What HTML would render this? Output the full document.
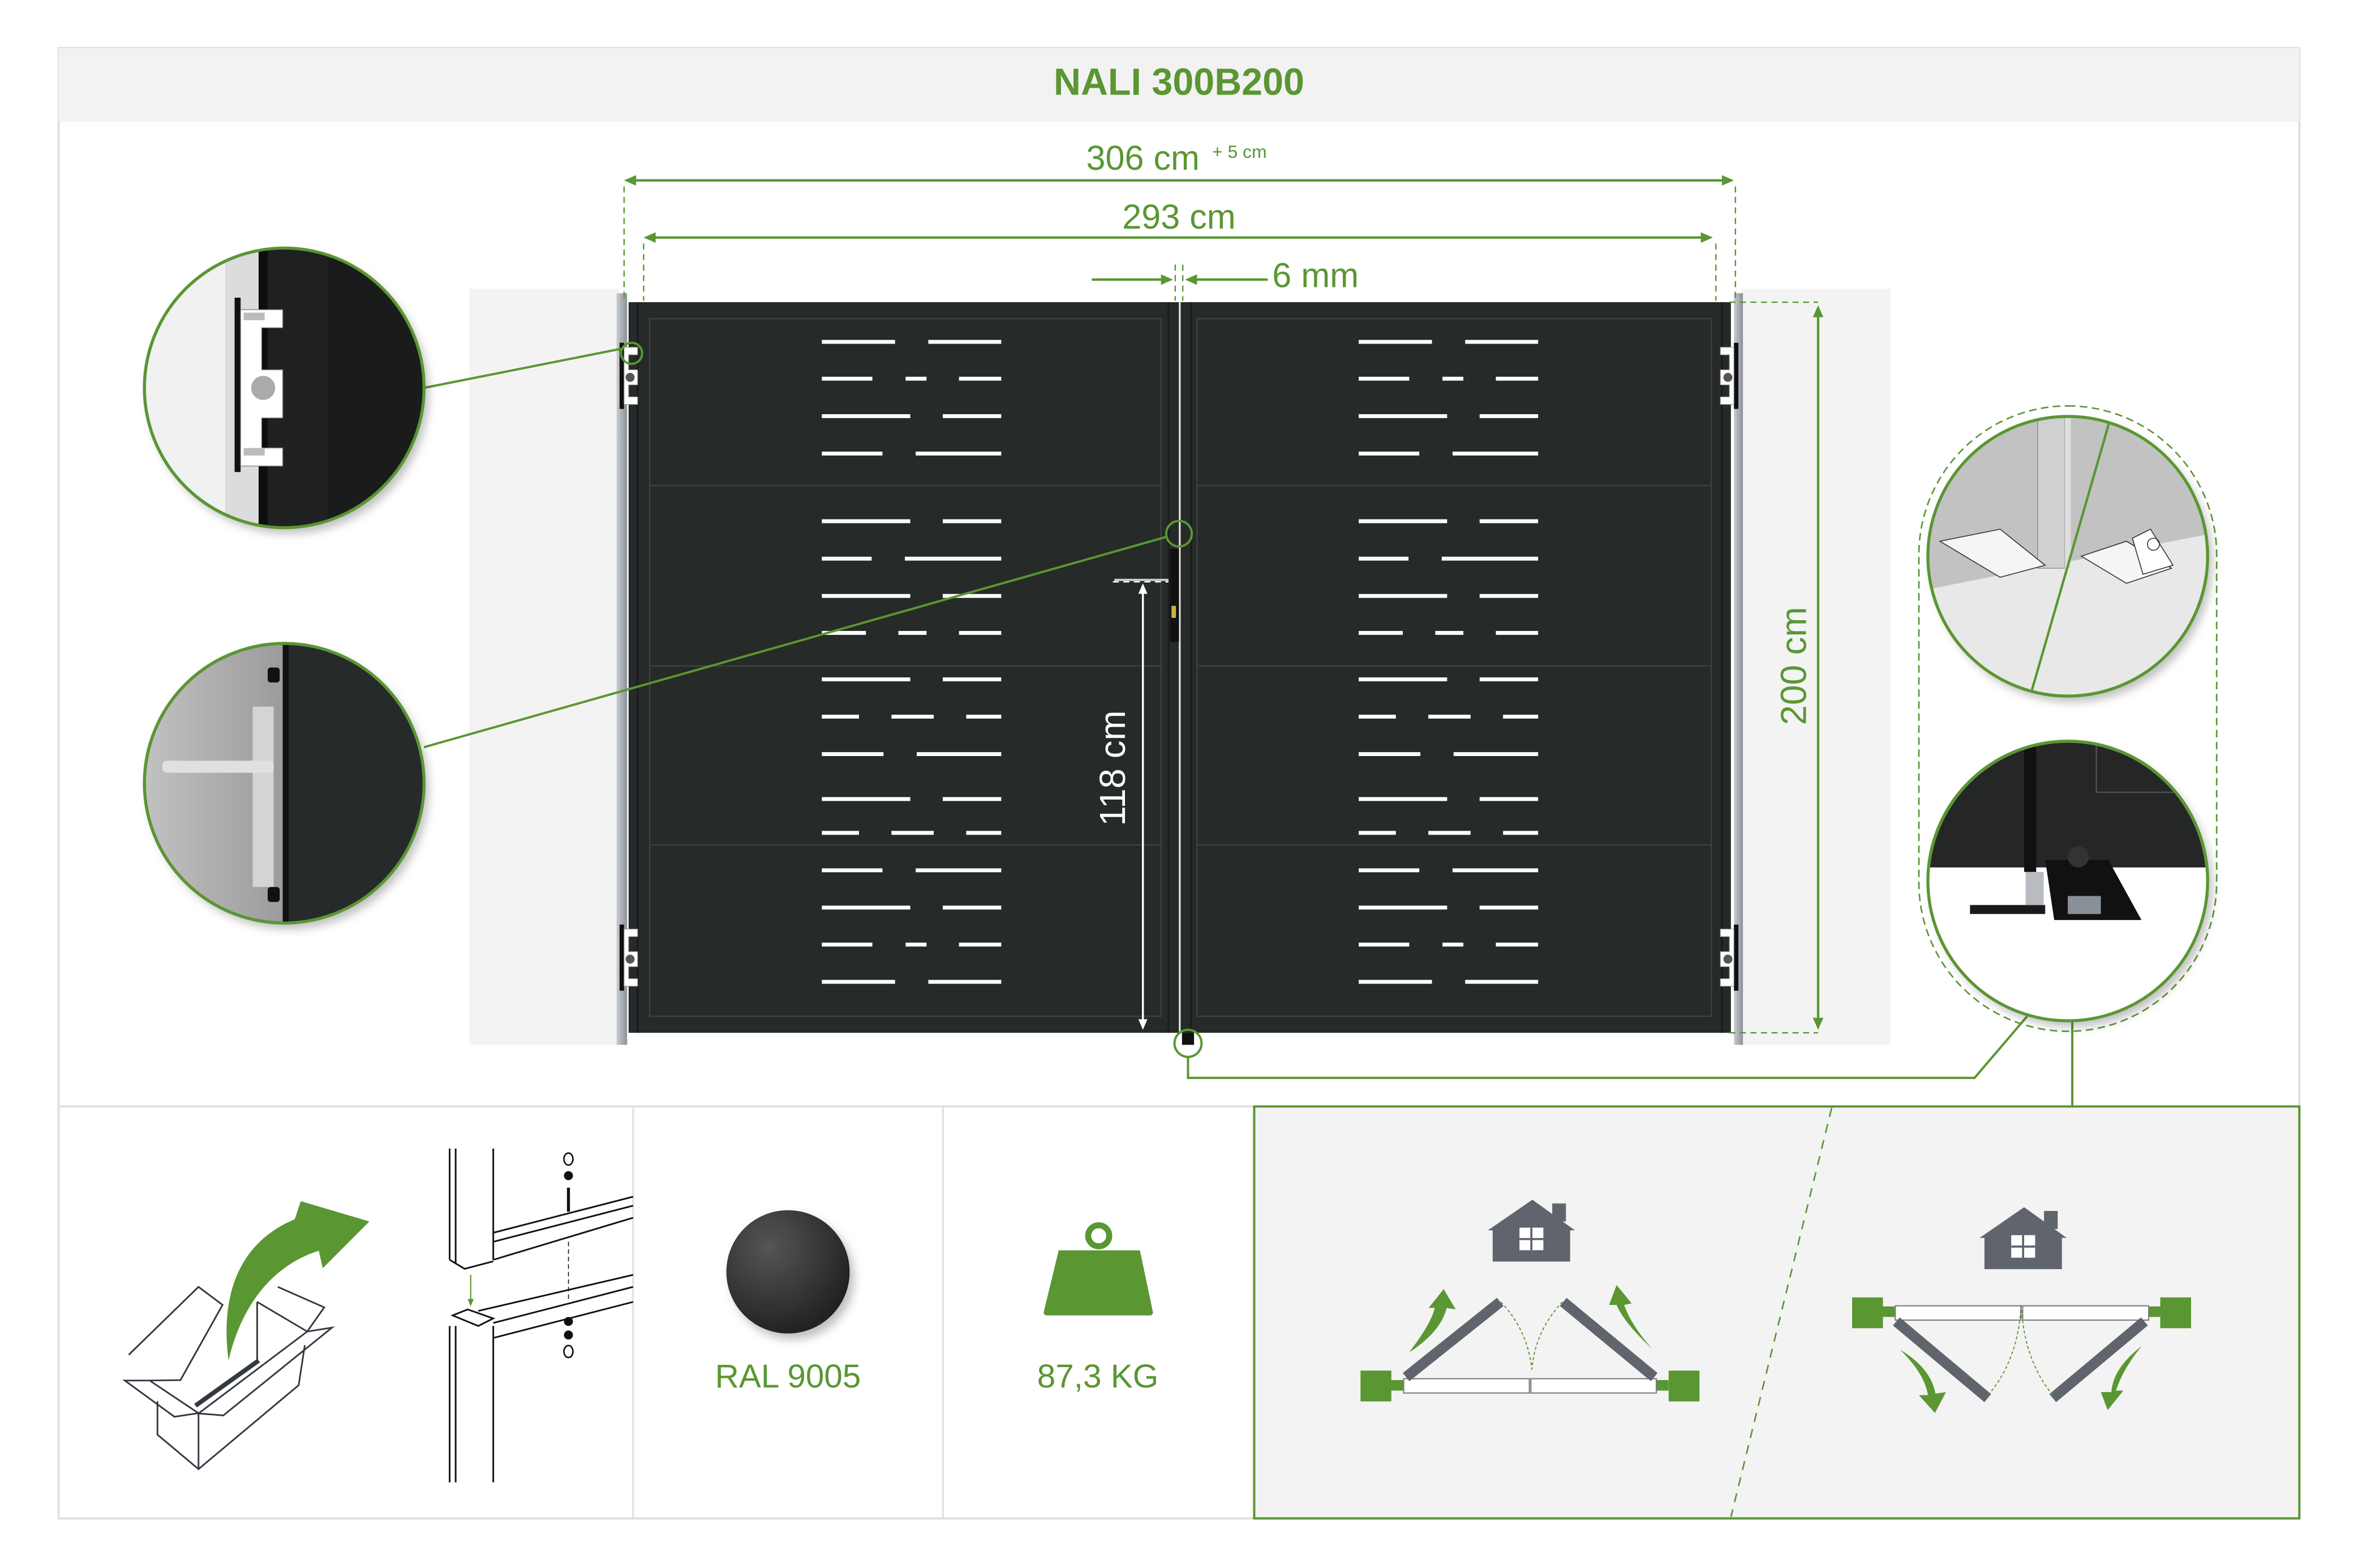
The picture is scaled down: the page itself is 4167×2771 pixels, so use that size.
<!DOCTYPE html>
<html><head><meta charset="utf-8"><style>
html,body{margin:0;padding:0;background:#fff}
svg{display:block}
text{font-family:"Liberation Sans",sans-serif}
</style></head><body>
<svg width="4167" height="2771" viewBox="0 0 1568 1043" preserveAspectRatio="none" xmlns="http://www.w3.org/2000/svg">
<defs>
<linearGradient id="post" x1="0" x2="1"><stop offset="0" stop-color="#c9cdd1"/><stop offset="1" stop-color="#8a9097"/></linearGradient>
<radialGradient id="ball" cx="0.35" cy="0.3" r="0.8"><stop offset="0" stop-color="#555"/><stop offset="1" stop-color="#1c1c1c"/></radialGradient>
<linearGradient id="hand" x1="0" x2="1"><stop offset="0" stop-color="#c4c4c4"/><stop offset="1" stop-color="#9a9a9a"/></linearGradient>
<clipPath id="c1"><circle cx="189" cy="258" r="92"/></clipPath>
<clipPath id="c2"><circle cx="189" cy="521" r="92"/></clipPath>
<clipPath id="c3"><circle cx="1375" cy="370" r="92"/></clipPath>
<clipPath id="c4"><circle cx="1375" cy="586" r="92"/></clipPath>
<filter id="sh" x="-20%" y="-20%" width="150%" height="150%"><feDropShadow dx="3" dy="4" stdDeviation="3" flood-color="#000" flood-opacity="0.25"/></filter>
<g id="slots" fill="#fff">
<rect x="546.5" y="226.1" width="48.7" height="2.6"/><rect x="617.3" y="226.1" width="48.5" height="2.6"/>
<rect x="546.5" y="250.6" width="33.6" height="2.6"/><rect x="602.2" y="250.6" width="13.9" height="2.6"/><rect x="637.7" y="250.6" width="28.1" height="2.6"/>
<rect x="546.5" y="275.5" width="58.8" height="2.6"/><rect x="626.9" y="275.5" width="38.9" height="2.6"/>
<rect x="546.5" y="300.4" width="40.3" height="2.6"/><rect x="608.9" y="300.4" width="56.9" height="2.6"/>
<rect x="546.5" y="345.4" width="58.8" height="2.6"/><rect x="626.9" y="345.4" width="38.9" height="2.6"/>
<rect x="546.5" y="370.3" width="33.1" height="2.6"/><rect x="601.7" y="370.3" width="64.1" height="2.6"/>
<rect x="546.5" y="395.1" width="58.8" height="2.6"/><rect x="626.9" y="395.1" width="38.9" height="2.6"/>
<rect x="546.5" y="419.7" width="29.3" height="2.6"/><rect x="597.4" y="419.7" width="18.7" height="2.6"/><rect x="637.7" y="419.7" width="28.1" height="2.6"/>
<rect x="546.5" y="450.6" width="58.8" height="2.6"/><rect x="626.9" y="450.6" width="38.9" height="2.6"/>
<rect x="546.5" y="475.4" width="24.7" height="2.6"/><rect x="592.8" y="475.4" width="28.1" height="2.6"/><rect x="642.5" y="475.4" width="23.3" height="2.6"/>
<rect x="546.5" y="500.3" width="41" height="2.6"/><rect x="609.6" y="500.3" width="56.2" height="2.6"/>
<rect x="546.5" y="530.2" width="58.8" height="2.6"/><rect x="626.9" y="530.2" width="38.9" height="2.6"/>
<rect x="546.5" y="552.7" width="24.7" height="2.6"/><rect x="592.8" y="552.7" width="28.1" height="2.6"/><rect x="642.5" y="552.7" width="23.3" height="2.6"/>
<rect x="546.5" y="577.6" width="40.3" height="2.6"/><rect x="608.9" y="577.6" width="56.9" height="2.6"/>
<rect x="546.5" y="602.4" width="58.8" height="2.6"/><rect x="626.9" y="602.4" width="38.9" height="2.6"/>
<rect x="546.5" y="627" width="33.6" height="2.6"/><rect x="602.2" y="627" width="13.9" height="2.6"/><rect x="637.7" y="627" width="28.1" height="2.6"/>
<rect x="546.5" y="651.8" width="48.7" height="2.6"/><rect x="617.3" y="651.8" width="48.5" height="2.6"/>
</g>
<g id="hinge">
<rect x="0" y="0" width="3" height="44" fill="#111"/>
<path d="M3 3 h9 v5 h-6 v10 h6 v10 h-6 v8 h6 v5 h-9z" fill="#fff" stroke="#999" stroke-width="0.4"/>
<circle cx="7" cy="23" r="3" fill="#555"/>
</g>
<g id="house" fill="#60646d">
<path d="M989.4 818.4 L1019 798 L1047.3 818.4 L1044.1 818.4 L1044.1 839.2 L992.6 839.2 L992.6 818.4Z"/>
<rect x="1032.2" y="800.5" width="9.1" height="12"/>
<rect x="1010.4" y="816.6" width="15.9" height="15" fill="#fff"/>
<rect x="1017.6" y="816.6" width="1.4" height="15" fill="#60646d"/>
<rect x="1010.4" y="823.5" width="15.9" height="1.4" fill="#60646d"/>
</g>
</defs>

<rect x="39" y="32" width="1490" height="978" fill="#fff" stroke="#e0e0e0" stroke-width="1.5"/>
<rect x="39" y="32" width="1490" height="49" fill="#f2f2f2"/>
<text x="784" y="63" font-size="25" font-weight="bold" fill="#5a9632" text-anchor="middle">NALI 300B200</text>

<rect x="312" y="192" width="100" height="503" fill="#f3f3f3"/>
<rect x="1158" y="192" width="99" height="503" fill="#f3f3f3"/>
<rect x="410" y="195" width="7" height="500" fill="url(#post)"/>
<rect x="1153" y="195" width="6" height="500" fill="url(#post)"/>

<rect x="418" y="201" width="733" height="486" fill="#262a29"/>
<g fill="none" stroke="#3b403f" stroke-width="1">
<rect x="432" y="212" width="340" height="464"/>
<rect x="796" y="212" width="342" height="464"/>
<line x1="432" y1="323" x2="772" y2="323"/><line x1="432" y1="443" x2="772" y2="443"/><line x1="432" y1="562" x2="772" y2="562"/>
<line x1="796" y1="323" x2="1138" y2="323"/><line x1="796" y1="443" x2="1138" y2="443"/><line x1="796" y1="562" x2="1138" y2="562"/>
</g>
<g stroke="#1a1c1c" stroke-width="1.2"><line x1="424" y1="201" x2="424" y2="687"/><line x1="1145" y1="201" x2="1145" y2="687"/><line x1="777" y1="201" x2="777" y2="687"/><line x1="792" y1="201" x2="792" y2="687"/></g>
<line x1="784.5" y1="201" x2="784.5" y2="687" stroke="#e8e8e8" stroke-width="1.2"/>
<use href="#slots"/>
<use href="#slots" transform="translate(357,0)"/>
<rect x="778" y="365" width="6" height="62" fill="#111"/>
<rect x="779" y="403" width="3" height="8" fill="#c9b34a"/>
<rect x="741" y="385" width="36" height="1.5" fill="#ccc"/>
<use href="#hinge" transform="translate(412,228)"/>
<use href="#hinge" transform="translate(412,615)"/>
<use href="#hinge" transform="translate(1156,228) scale(-1,1)"/>
<use href="#hinge" transform="translate(1156,615) scale(-1,1)"/>
<rect x="786" y="687" width="8" height="8" fill="#111"/>

<g stroke="#5a9632" stroke-width="1.6" fill="#5a9632">
<line x1="418" y1="120" x2="1150" y2="120"/>
<path d="M415 120 l8 -3.5 v7z M1153 120 l-8 -3.5 v7z" stroke="none"/>
<line x1="431" y1="158" x2="1136" y2="158"/>
<path d="M428 158 l8 -3.5 v7z M1139 158 l-8 -3.5 v7z" stroke="none"/>
<line x1="726" y1="186" x2="776" y2="186"/>
<path d="M780 186 l-8 -3.5 v7z" stroke="none"/>
<line x1="792" y1="186" x2="843" y2="186"/>
<path d="M788 186 l8 -3.5 v7z" stroke="none"/>
<line x1="1209" y1="208" x2="1209" y2="680"/>
<path d="M1209 203 l-3.5 8 h7z M1209 685 l-3.5 -8 h7z" stroke="none"/>
</g>
<g stroke="#5a9632" stroke-width="0.9" stroke-dasharray="4 3" fill="none">
<line x1="415" y1="124" x2="415" y2="200"/><line x1="428" y1="162" x2="428" y2="200"/>
<line x1="1141" y1="162" x2="1141" y2="200"/><line x1="1154" y1="124" x2="1154" y2="200"/>
<line x1="781.5" y1="176" x2="781.5" y2="200"/><line x1="786.5" y1="176" x2="786.5" y2="200"/>
<line x1="1150" y1="201" x2="1209" y2="201"/><line x1="1150" y1="687" x2="1209" y2="687"/>
</g>
<text x="760" y="113" font-size="23" fill="#5a9632" text-anchor="middle">306 cm</text>
<text x="806" y="105" font-size="12" fill="#5a9632">+ 5 cm</text>
<text x="784" y="152" font-size="23" fill="#5a9632" text-anchor="middle">293 cm</text>
<text x="846" y="191" font-size="23" fill="#5a9632">6 mm</text>
<text transform="translate(1201,443) rotate(-90)" font-size="24" fill="#5a9632" text-anchor="middle">200 cm</text>
<g stroke="#fff" stroke-width="1.3" fill="#fff">
<line x1="760" y1="392" x2="760" y2="681"/>
<path d="M760 388 l-3 7 h6z M760 685 l-3 -7 h6z" stroke="none"/>
</g>
<line x1="740" y1="387" x2="777" y2="387" stroke="#fff" stroke-width="0.9" stroke-dasharray="4 3"/>
<text transform="translate(748,511) rotate(-90)" font-size="24" fill="#fff" text-anchor="middle">118 cm</text>

<g stroke="#5a9632" stroke-width="1.5" fill="none">
<line x1="282" y1="258" x2="413" y2="232"/>
<circle cx="420" cy="235" r="7"/>
<line x1="282" y1="497" x2="776" y2="357"/>
<circle cx="784" cy="355" r="8.5"/>
<circle cx="790" cy="694" r="9"/>
<polyline points="790,703 790,717 1313,717 1348,676"/>
<line x1="1378" y1="680" x2="1378" y2="736"/>
</g>

<g filter="url(#sh)"><circle cx="189" cy="258" r="93" fill="#1c1e1e"/></g>
<g clip-path="url(#c1)">
<rect x="90" y="160" width="60" height="200" fill="#f1f1f1"/>
<rect x="150" y="160" width="22" height="200" fill="#dcdcdc"/>
<rect x="172" y="160" width="6" height="200" fill="#0d0d0d"/>
<rect x="178" y="160" width="40" height="200" fill="#1f2121"/>
<rect x="218" y="160" width="80" height="200" fill="#1a1c1c"/>
<rect x="156" y="198" width="4" height="116" fill="#111"/>
<path d="M160 206 h28 v12 h-14 v28 h14 v32 h-14 v20 h14 v12 h-28z" fill="#fff" stroke="#888" stroke-width="0.5"/>
<circle cx="175" cy="258" r="8" fill="#aaa"/>
<rect x="162" y="208" width="14" height="5" fill="#bbb"/><rect x="162" y="298" width="14" height="5" fill="#bbb"/>
</g>
<circle cx="189" cy="258" r="93" fill="none" stroke="#5a9632" stroke-width="2"/>

<g filter="url(#sh)"><circle cx="189" cy="521" r="93" fill="#262a29"/></g>
<g clip-path="url(#c2)">
<rect x="90" y="420" width="100" height="200" fill="url(#hand)"/>
<rect x="168" y="470" width="14" height="120" fill="#d4d4d4"/>
<rect x="188" y="420" width="4" height="200" fill="#111"/>
<rect x="108" y="506" width="74" height="8" rx="3" fill="#e0e0e0"/>
<rect x="178" y="444" width="8" height="10" rx="2" fill="#111"/><rect x="178" y="590" width="8" height="10" rx="2" fill="#111"/>
</g>
<circle cx="189" cy="521" r="93" fill="none" stroke="#5a9632" stroke-width="2"/>

<rect x="1276" y="270" width="198" height="416" rx="99" fill="none" stroke="#5a9632" stroke-width="1" stroke-dasharray="5 3"/>
<g filter="url(#sh)"><circle cx="1375" cy="370" r="93" fill="#e8e8e8"/></g>
<g clip-path="url(#c3)">
<path d="M1280 270 H1470 V355 L1282 392Z" fill="#c2c2c2"/>
<rect x="1355" y="278" width="18" height="100" fill="#d0d0d0" stroke="#888" stroke-width="0.5"/>
<rect x="1373" y="278" width="4" height="100" fill="#ddd"/>
<path d="M1290 360 l40 -8 l30 24 l-30 8z" fill="#f5f5f5" stroke="#333" stroke-width="0.6"/>
<path d="M1384 370 l30 -10 l30 18 l-30 10z" fill="#f5f5f5" stroke="#333" stroke-width="0.6"/>
<path d="M1418 358 l12 -6 l15 24 l-20 6z" fill="#fff" stroke="#333" stroke-width="0.6"/>
<circle cx="1432" cy="362" r="4" fill="none" stroke="#333" stroke-width="0.6"/>
<line x1="1404" y1="276" x2="1348" y2="470" stroke="#5a9632" stroke-width="1.6"/>
</g>
<circle cx="1375" cy="370" r="93" fill="none" stroke="#5a9632" stroke-width="2"/>
<g filter="url(#sh)"><circle cx="1375" cy="586" r="93" fill="#fff"/></g>
<g clip-path="url(#c4)">
<rect x="1280" y="490" width="190" height="87" fill="#242726"/>
<rect x="1346" y="490" width="8" height="90" fill="#111"/>
<line x1="1394" y1="494" x2="1394" y2="527" stroke="#555" stroke-width="0.8"/>
<line x1="1394" y1="527" x2="1470" y2="527" stroke="#555" stroke-width="0.8"/>
<path d="M1310 602 h50 v6 h-50z" fill="#1a1a1a"/>
<rect x="1347" y="580" width="12" height="22" fill="#b8bcc0"/>
<path d="M1360 572 h42 l22 40 h-58z" fill="#111"/>
<circle cx="1382" cy="570" r="7" fill="#333"/>
<rect x="1375" y="596" width="22" height="12" fill="#8a9097"/>
</g>
<circle cx="1375" cy="586" r="93" fill="none" stroke="#5a9632" stroke-width="2"/>

<line x1="39" y1="736" x2="834" y2="736" stroke="#e0e0e0" stroke-width="1.5"/>
<line x1="421" y1="736" x2="421" y2="1010" stroke="#e0e0e0" stroke-width="1.2"/>
<line x1="627" y1="736" x2="627" y2="1010" stroke="#e0e0e0" stroke-width="1.2"/>
<rect x="834" y="736" width="695" height="274" fill="#f3f3f3" stroke="#5a9632" stroke-width="1.5"/>

<g fill="none" stroke="#333842" stroke-width="1.1">
<path d="M85.6 901.2 L132 856 L148 868 L120 918 L99.5 918.3"/>
<path d="M184.7 856 L215.6 869.6 L204.3 885.7 L171 866"/>
<path d="M83 918.3 L99.5 918.3 L132 940 L116 942.4 Z"/>
<path d="M132 940.2 L148.5 941.5 L220.8 883.1 L204.3 885.7 Z"/>
<path d="M104.7 932 L104.7 954.3 L132 977.2 L198.6 921.4 L202.7 894.8"/>
<line x1="132" y1="940" x2="132" y2="977"/>
<line x1="171" y1="866" x2="171" y2="906"/>
</g>
<line x1="130" y1="935" x2="172" y2="905" stroke="#333842" stroke-width="3"/>
<path d="M152 905 C146 860 160 826 196 811 L200 799 L245.6 812.5 L214.6 843.6 L212 832 C180 842 160 870 152 905Z" fill="#5a9632"/>

<g fill="none" stroke="#111" stroke-width="1.1">
<line x1="299" y1="764" x2="299" y2="838"/><line x1="303" y1="764" x2="303" y2="840"/><line x1="328" y1="764" x2="328" y2="838"/>
<path d="M299 838 l10 6 l19 -5"/>
<line x1="328" y1="820" x2="421" y2="796"/><line x1="328" y1="826" x2="421" y2="802"/><line x1="328" y1="838" x2="421" y2="810"/>
<line x1="299" y1="882" x2="299" y2="986"/><line x1="303" y1="882" x2="303" y2="986"/><line x1="328" y1="882" x2="328" y2="986"/>
<path d="M301 875 l10 -4 l17 6 l-10 5z"/>
<line x1="318" y1="872" x2="421" y2="848"/><line x1="328" y1="880" x2="421" y2="856"/><line x1="328" y1="890" x2="421" y2="866"/>
<line x1="378" y1="790" x2="378" y2="806" stroke-width="2"/>
<line x1="378" y1="826" x2="378" y2="864" stroke-width="0.6" stroke-dasharray="3 2"/>
</g>
<ellipse cx="378" cy="771" rx="3" ry="4" fill="none" stroke="#111"/>
<circle cx="378" cy="782" r="3" fill="#111"/>
<circle cx="378" cy="879" r="3" fill="#111"/><circle cx="378" cy="888" r="3" fill="#111"/>
<ellipse cx="378" cy="899" rx="3" ry="4" fill="none" stroke="#111"/>
<line x1="313" y1="848" x2="313" y2="866" stroke="#5a9632" stroke-width="0.8"/>
<path d="M313 869 l-2 -5 h4z" fill="#5a9632"/>

<g filter="url(#sh)"><circle cx="524" cy="846" r="41" fill="url(#ball)"/></g>
<text x="524" y="923" font-size="22" fill="#5a9632" text-anchor="middle">RAL 9005</text>
<circle cx="730.6" cy="822" r="7" fill="none" stroke="#5a9632" stroke-width="4"/>
<path d="M704 831.7 H758 L766.7 873 Q766.7 875 764 875 H697 Q694 875 694 873 Z" fill="#5a9632"/>
<text x="730" y="923" font-size="22" fill="#5a9632" text-anchor="middle">87,3 KG</text>

<line x1="1218" y1="737" x2="1151" y2="1009" stroke="#5a9632" stroke-width="1" stroke-dasharray="6 5"/>
<use href="#house"/>
<use href="#house" transform="translate(327,5)"/>
<g fill="#5a9632">
<rect x="904.7" y="911.7" width="20.5" height="20.5"/><rect x="925" y="918" width="8" height="7"/>
<rect x="1109.6" y="911.7" width="20.5" height="20.5"/><rect x="1101.5" y="918" width="8" height="7"/>
<rect x="1231.6" y="863" width="20.5" height="20.5"/><rect x="1252" y="869" width="8" height="7"/>
<rect x="1436.5" y="863" width="20.5" height="20.5"/><rect x="1428.5" y="869" width="8" height="7"/>
</g>
<g fill="#fff" stroke="#7a7d85" stroke-width="0.8">
<rect x="933.4" y="917.1" width="83.6" height="9.5"/><rect x="1018" y="917.1" width="83.4" height="9.5"/>
<rect x="1260.3" y="868.6" width="83.5" height="9.5"/><rect x="1345" y="868.6" width="83.8" height="9.5"/>
</g>
<g stroke="#60646d" stroke-width="7" stroke-linecap="butt">
<line x1="935" y1="916" x2="997.6" y2="866"/><line x1="1100" y1="916" x2="1039.5" y2="866"/>
<line x1="1261" y1="879" x2="1321.8" y2="930"/><line x1="1426" y1="879" x2="1365" y2="930"/>
</g>
<g fill="none" stroke="#5a9632" stroke-width="0.7" stroke-dasharray="2 1.5">
<path d="M998 866 Q1016 885 1018.6 911"/><path d="M1039 866 Q1021 885 1018.6 911"/>
<path d="M1322 928 Q1342 905 1344 868"/><path d="M1365 928 Q1346 905 1344 868"/>
</g>
<g fill="#5a9632">
<path d="M937 899.6 Q952 880 954 870 L950 870 L960 857.5 L968 871 L962 870 Q958 886 937 899.6Z"/>
<path d="M1098.7 897.2 Q1080 880 1075 868 L1070 868 L1075 854.8 L1085 867 L1080 868 Q1085 882 1098.7 897.2Z"/>
<path d="M1263.5 897.8 Q1280 914 1282 928 L1276 928 L1286.7 939.9 L1294 926 L1287 927 Q1284 910 1263.5 897.8Z"/>
<path d="M1424.2 895.4 Q1405 910 1404 926 L1397 926 L1401.5 938 L1412 925 L1407 925 Q1412 910 1424.2 895.4Z"/>
</g>
</svg>
</body></html>
